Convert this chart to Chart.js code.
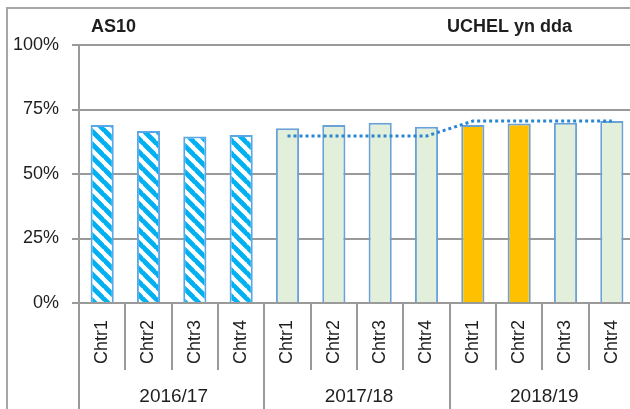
<!DOCTYPE html>
<html><head><meta charset="utf-8">
<script src="https://cdn.jsdelivr.net/npm/chart.js@4"></script>
<style>
html,body{margin:0;padding:0;background:#fff;overflow:hidden;}
#wrap{position:relative;width:635px;height:409px;}
</style></head><body>
<div id="wrap"><canvas id="c" width="635" height="409"></canvas></div>
<script>
// ---- data ----
const quarters = ['Chtr1','Chtr2','Chtr3','Chtr4','Chtr1','Chtr2','Chtr3','Chtr4','Chtr1','Chtr2','Chtr3','Chtr4'];
const years = ['2016/17','2017/18','2018/19'];
const attendance = [69.0,66.7,64.5,65.1,67.7,69.0,69.9,68.3,69.0,69.6,69.9,70.5];
const yearAverage = [null,null,null,null,64.7,64.7,64.7,64.7,70.5,70.5,70.5,70.5];
const yTicks = [0,25,50,75,100];
const titleLeft = 'AS10';
const titleRight = 'UCHEL yn dda';

// ---- styling ----
const FONT = "'Liberation Sans', Arial, sans-serif";
const GRID = '#9a9a9a';
const TEXT = '#1e1e1e';
const perYear = quarters.length / years.length;
const highlighted = new Set([8,9]);

function hatchPattern(){
  const s = 13, c = document.createElement('canvas');
  c.width = s; c.height = s;
  const g = c.getContext('2d');
  g.fillStyle = '#ffffff'; g.fillRect(0,0,s,s);
  g.strokeStyle = '#00B0F0'; g.lineWidth = 4.8;
  g.beginPath();
  for (const k of [-s,0,s]) { g.moveTo(-1, k-1); g.lineTo(s+1, k+s+1); }
  g.stroke();
  return g.createPattern(c,'repeat');
}
const hatch = hatchPattern();
const barColors = attendance.map((v,i) => i < perYear ? hatch : (highlighted.has(i) ? '#FFC000' : '#E2EFDA'));
const barBorders = attendance.map((v,i) => i < perYear ? '#5BA7E6' : '#6AA2D8');

const deco = {
  id: 'deco',
  beforeDraw(chart){
    const ctx = chart.ctx;
    ctx.save();
    ctx.strokeStyle = '#a6a6a6'; ctx.lineWidth = 2;
    ctx.strokeRect(7, 8, 1000, 1000);
    ctx.restore();
  },
  afterDraw(chart){
    const ctx = chart.ctx, x = chart.scales.x, ca = chart.chartArea;
    const step = x.getPixelForValue(1) - x.getPixelForValue(0);
    const bound = i => x.getPixelForValue(i) - step/2;
    ctx.save();
    ctx.strokeStyle = GRID; ctx.lineWidth = 2;
    for (let i = 0; i <= quarters.length; i++) {
      const px = Math.round(bound(i));
      const yEnd = (i % perYear === 0) ? chart.height : ca.bottom + 67;
      ctx.beginPath(); ctx.moveTo(px, ca.bottom); ctx.lineTo(px, yEnd); ctx.stroke();
    }
    ctx.fillStyle = TEXT;
    ctx.font = "19px " + FONT;
    ctx.textAlign = 'center'; ctx.textBaseline = 'middle';
    years.forEach((y, g) => {
      const cx = (bound(g*perYear) + bound((g+1)*perYear)) / 2;
      ctx.fillText(y, cx + 2, 397);
    });
    ctx.font = "bold 18px " + FONT;
    ctx.textAlign = 'left';
    ctx.fillText(titleLeft, 91, 27);
    ctx.textAlign = 'right';
    ctx.fillText(titleRight, 572, 27);
    ctx.restore();
  }
};

new Chart(document.getElementById('c'), {
  data: {
    labels: quarters,
    datasets: [
      {
        type: 'line',
        data: yearAverage,
        borderColor: '#2A86D0',
        borderWidth: 3,
        borderDash: [3,3],
        pointRadius: 0,
        fill: false,
        tension: 0,
        order: 0
      },
      {
        type: 'bar',
        data: attendance,
        backgroundColor: barColors,
        borderColor: barBorders,
        borderWidth: 2,
        barPercentage: 0.5,
        categoryPercentage: 1,
        order: 1
      }
    ]
  },
  options: {
    responsive: false,
    animation: false,
    layout: { padding: { top: 45, left: 0, right: 0, bottom: 0 } },
    plugins: { legend: { display: false }, tooltip: { enabled: false } },
    scales: {
      x: {
        offset: true,
        grid: { display: false, drawTicks: false },
        border: { display: true, color: GRID, width: 2 },
        ticks: { minRotation: 90, maxRotation: 90, padding: 17, color: TEXT, font: { family: FONT, size: 18 } },
        afterFit(s){ s.height = 106; s.paddingLeft = 0; s.paddingRight = 0; }
      },
      y: {
        min: 0, max: 100,
        afterBuildTicks(s){ s.ticks = yTicks.map(v => ({ value: v })); },
        grid: { color: GRID, lineWidth: 2, tickLength: 7 },
        border: { display: true, color: GRID, width: 2 },
        ticks: { padding: 13, color: TEXT, font: { family: FONT, size: 18 }, callback: v => v + '%' },
        afterFit(s){ s.width = 79; }
      }
    }
  },
  plugins: [deco]
});
</script>
</body></html>
